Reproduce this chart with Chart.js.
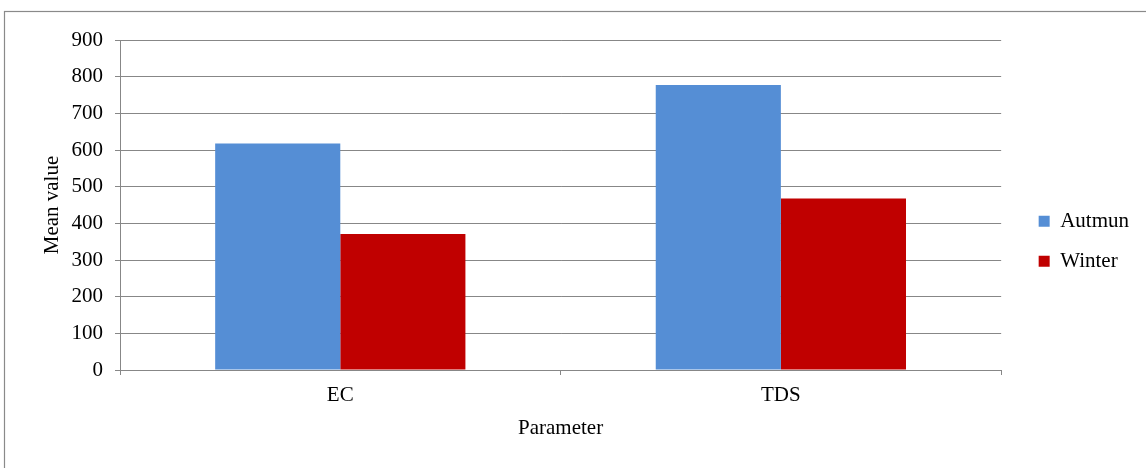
<!DOCTYPE html>
<html>
<head>
<meta charset="utf-8">
<script src="https://cdn.jsdelivr.net/npm/chart.js@4/dist/chart.umd.min.js"></script>
<style>
  html, body { margin: 0; padding: 0; background: #ffffff; }
  #wrap { width: 1146px; height: 468px; position: relative; }
</style>
</head>
<body>
<div id="wrap"><canvas id="c" width="1146" height="468"></canvas></div>
<script>
// Mean values of two water-quality parameters per season
const categories = ['EC', 'TDS'];
const autumnValues = [618, 777];
const winterValues = [371, 468];
const seriesNames = ['Autmun', 'Winter'];
const yTicks = { min: 0, max: 900, step: 100 };

const FONT = { family: "'Liberation Serif', 'Times New Roman', serif", size: 21 };
const GRID = '#878787';

// Thin grey frame around the whole figure
const framePlugin = {
  id: 'frame',
  beforeDraw(chart) {
    const ctx = chart.ctx;
    ctx.save();
    ctx.fillStyle = '#ffffff';
    ctx.fillRect(0, 0, chart.width, chart.height);
    ctx.strokeStyle = '#8a8a8a';
    ctx.lineWidth = 1.2;
    ctx.strokeRect(4.5, 11.5, 1300, 600);
    ctx.restore();
  }
};

new Chart(document.getElementById('c'), {
  type: 'bar',
  data: {
    labels: categories,
    datasets: [
      { label: seriesNames[0], data: autumnValues, backgroundColor: '#558ED5', borderWidth: 0 },
      { label: seriesNames[1], data: winterValues, backgroundColor: '#C00000', borderWidth: 0 }
    ]
  },
  options: {
    responsive: false,
    animation: false,
    devicePixelRatio: 1,
    layout: { padding: { left: 36, top: 40, right: 7, bottom: 25.6 } },
    datasets: { bar: { categoryPercentage: 0.568, barPercentage: 1.0 } },
    plugins: {
      title: { display: false },
      tooltip: { enabled: false },
      legend: {
        display: true,
        position: 'right',
        align: 'center',
        labels: {
          boxWidth: 11,
          boxHeight: 11,
          padding: 19,
          color: '#000000',
          font: FONT
        }
      }
    },
    scales: {
      x: {
        type: 'category',
        offset: true,
        grid: { display: true, drawOnChartArea: false, drawTicks: true, tickLength: 5, color: GRID, offset: true },
        border: { display: true, color: GRID, width: 1 },
        ticks: { color: '#000000', font: FONT, padding: 8, maxRotation: 0 },
        title: { display: true, text: 'Parameter', color: '#000000', font: FONT, padding: { top: 0, bottom: 1 } },
        afterFit(scale) { scale.height = 72.4; }
      },
      y: {
        type: 'linear',
        position: 'left',
        min: yTicks.min,
        max: yTicks.max,
        ticks: { stepSize: yTicks.step, color: '#000000', font: FONT, padding: 12 },
        grid: { display: true, drawOnChartArea: true, drawTicks: true, tickLength: 5, color: GRID, lineWidth: 1 },
        border: { display: true, color: GRID, width: 1 },
        title: { display: true, text: 'Mean value', color: '#000000', font: FONT, padding: { top: 4, bottom: 0 } },
        afterFit(scale) { scale.width = 84; }
      },
      gap: {
        type: 'linear',
        position: 'right',
        display: true,
        grid: { display: false },
        border: { display: false },
        ticks: { display: false },
        afterFit(scale) { scale.width = 18.5; }
      }
    }
  },
  plugins: [framePlugin]
});
</script>
</body>
</html>
